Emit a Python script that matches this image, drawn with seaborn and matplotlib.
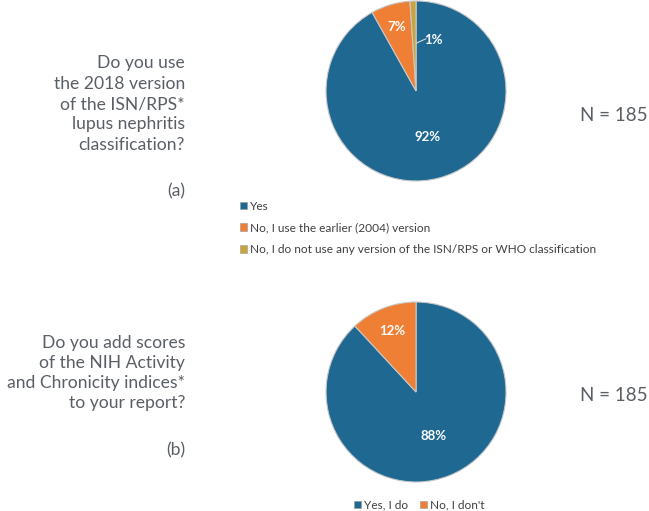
import numpy as np
import matplotlib
matplotlib.use("Agg")
import matplotlib.pyplot as plt
import seaborn as sns
from matplotlib.patches import Patch

# data
labels_a = ["Yes", "No, I use the earlier (2004) version",
            "No, I do not use any version of the ISN/RPS or WHO classification"]
counts_a = [170, 13, 2]
pct_a = ["92%", "7%", "1%"]
labels_b = ["Yes, I do", "No, I don't"]
counts_b = [163, 22]
pct_b = ["88%", "12%"]
n_total = 185

q_a = "Do you use\nthe 2018 version\nof the ISN/RPS*\nlupus nephritis\nclassification?"
q_b = "Do you add scores\nof the NIH Activity\nand Chronicity indices*\nto your report?"

sns.set_style("white")
plt.rcParams['font.family'] = ['Lato', 'DejaVu Sans']
colors = ["#1f6892", "#ef7f35", "#c9a43c"]
grey = "#5a5f66"

fig = plt.figure(figsize=(6.49, 5.11), dpi=100)


def draw_pie(ax, counts, pcts, offs):
    wedges, _ = ax.pie(counts, colors=colors[:len(counts)], startangle=90,
                       counterclock=False, radius=1,
                       wedgeprops=dict(edgecolor="#c8c8c8", linewidth=0.8))
    ax.set_xlim(-1.25, 1.25)
    ax.set_ylim(-1.25, 1.25)
    ax.set_aspect("equal")
    for w, p, (r, dx, dy) in zip(wedges, pcts, offs):
        ang = np.deg2rad((w.theta1 + w.theta2) / 2)
        ax.text(r * np.cos(ang) + dx, r * np.sin(ang) + dy, p,
                ha="center", va="center", color="white",
                fontsize=9.5, fontweight="bold")
    return wedges


ax_a = fig.add_axes([0.4677, 0.6018, 0.3467, 0.4403])
draw_pie(ax_a, counts_a, pct_a, [(0.53, 0, 0), (0.74, 0, 0), (0.55, 0.21, 0.02)])
# leader line for the thin slice
ax_a.plot([0.0, 0.11], [0.53, 0.58], color="#d8d8d8", lw=0.8)

ax_b = fig.add_axes([0.4677, 0.0127, 0.3467, 0.4403])
draw_pie(ax_b, counts_b, pct_b, [(0.52, 0, 0), (0.73, 0, 0)])

# question texts
fs = 12.6
fig.text(185 / 649, 1 - 104 / 511, q_a, ha="right", va="center",
         fontsize=fs, color=grey, linespacing=1.33)
fig.text(185 / 649, 1 - 191 / 511, "(a)", ha="right", va="center",
         fontsize=fs, color=grey)
fig.text(185 / 649, 1 - 373 / 511, q_b, ha="right", va="center",
         fontsize=fs, color=grey, linespacing=1.33)
fig.text(185 / 649, 1 - 450 / 511, "(b)", ha="right", va="center",
         fontsize=fs, color=grey)
fig.text(648 / 649, 1 - 115 / 511, f"N = {n_total}", ha="right", va="center",
         fontsize=13.5, color=grey)
fig.text(648 / 649, 1 - 395 / 511, f"N = {n_total}", ha="right", va="center",
         fontsize=13.5, color=grey)

# legends
h_a = [Patch(facecolor=c, edgecolor="#999999", linewidth=0.4) for c in colors]
fig.legend(h_a, labels_a, loc="upper left", bbox_to_anchor=(229 / 649, 1 - 190 / 511),
           frameon=False, fontsize=8.6, handlelength=0.6, handleheight=0.6,
           handletextpad=0.25, labelspacing=0.9, labelcolor="#404040")
h_b = [Patch(facecolor=c, edgecolor="#999999", linewidth=0.4) for c in colors[:2]]
fig.legend(h_b, labels_b, loc="upper left", bbox_to_anchor=(343 / 649, 1 - 489 / 511),
           frameon=False, fontsize=8.6, handlelength=0.6, handleheight=0.6,
           handletextpad=0.25, ncol=2, columnspacing=1.0, labelcolor="#404040")

fig.savefig("out.png", dpi=100, facecolor="white")
